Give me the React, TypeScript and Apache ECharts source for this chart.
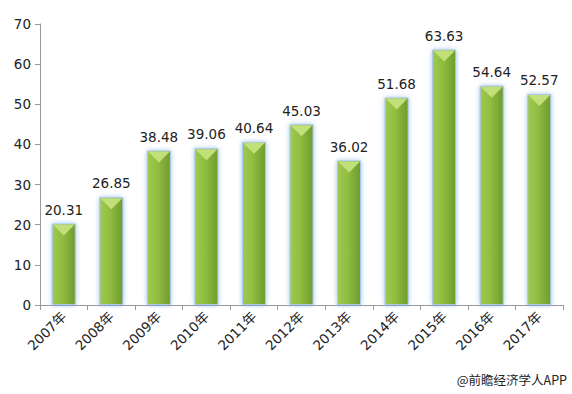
import React, { useEffect, useRef } from "react";
import * as echarts from "echarts";

const categories = ["2007年", "2008年", "2009年", "2010年", "2011年", "2012年", "2013年", "2014年", "2015年", "2016年", "2017年"];
const values = [20.31, 26.85, 38.48, 39.06, 40.64, 45.03, 36.02, 51.68, 63.63, 54.64, 52.57];
const yTicks = { min: 0, max: 70, interval: 10 };

export default function App() {
  const ref = useRef<HTMLDivElement>(null);
  useEffect(() => {
    const chart = echarts.init(ref.current!, null, { renderer: "svg" });
    const font = "'DejaVu Sans', 'Noto Sans CJK SC', sans-serif";
    chart.setOption({
      animation: false,
      backgroundColor: "#ffffff",
      grid: { left: 40, right: 9, top: 24, bottom: 89, containLabel: false },
      graphic: [
        {
          type: "text",
          right: 5,
          top: 373,
          style: { text: "@前瞻经济学人APP", fontSize: 12.5, fill: "#222", fontFamily: "'Noto Sans CJK SC', sans-serif" },
        },
      ],
      xAxis: {
        type: "category",
        data: categories,
        axisLine: { lineStyle: { color: "#9a9a9a" } },
        axisTick: { show: true, length: 5, lineStyle: { color: "#9a9a9a" } },
        axisLabel: { rotate: 45, fontSize: 13.5, color: "#222", margin: 9, fontFamily: font },
      },
      yAxis: {
        type: "value",
        min: yTicks.min,
        max: yTicks.max,
        interval: yTicks.interval,
        splitLine: { show: false },
        axisLine: { show: true, lineStyle: { color: "#9a9a9a" } },
        axisTick: { show: true, length: 5, lineStyle: { color: "#9a9a9a" } },
        axisLabel: { fontSize: 13.5, color: "#222", margin: 9, fontFamily: font },
      },
      series: [
        {
          type: "bar",
          data: values,
          barWidth: 24,
          itemStyle: {
            color: new echarts.graphic.LinearGradient(0, 0, 1, 0, [
              { offset: 0, color: "#a0c951" },
              { offset: 0.45, color: "#8fbd40" },
              { offset: 1, color: "#6f9b2d" },
            ]),
            borderColor: "#a9c9ec",
            borderWidth: 1,
            shadowColor: "rgba(120,170,230,0.7)",
            shadowBlur: 5,
          },
          label: {
            show: true,
            position: "top",
            distance: 7,
            fontSize: 13.5,
            color: "#222",
            fontFamily: font,
            formatter: (p: any) => p.value.toFixed(2),
          },
        },
        {
          type: "custom",
          data: values.map((v, i) => [i, v]),
          z: 3,
          silent: true,
          renderItem: (params: any, api: any) => {
            const top = api.coord([api.value(0), api.value(1)]);
            const half = 11;
            return {
              type: "polygon",
              shape: {
                points: [
                  [top[0] - half, top[1] + 1],
                  [top[0] + half, top[1] + 1],
                  [top[0], top[1] + 12],
                ],
              },
              style: { fill: "#c2e07a" },
            };
          },
        },
      ],
    });
    return () => chart.dispose();
  }, []);
  return <div ref={ref} style={{ width: 572, height: 394, position: "absolute", left: 0, top: 0 }} />;
}
